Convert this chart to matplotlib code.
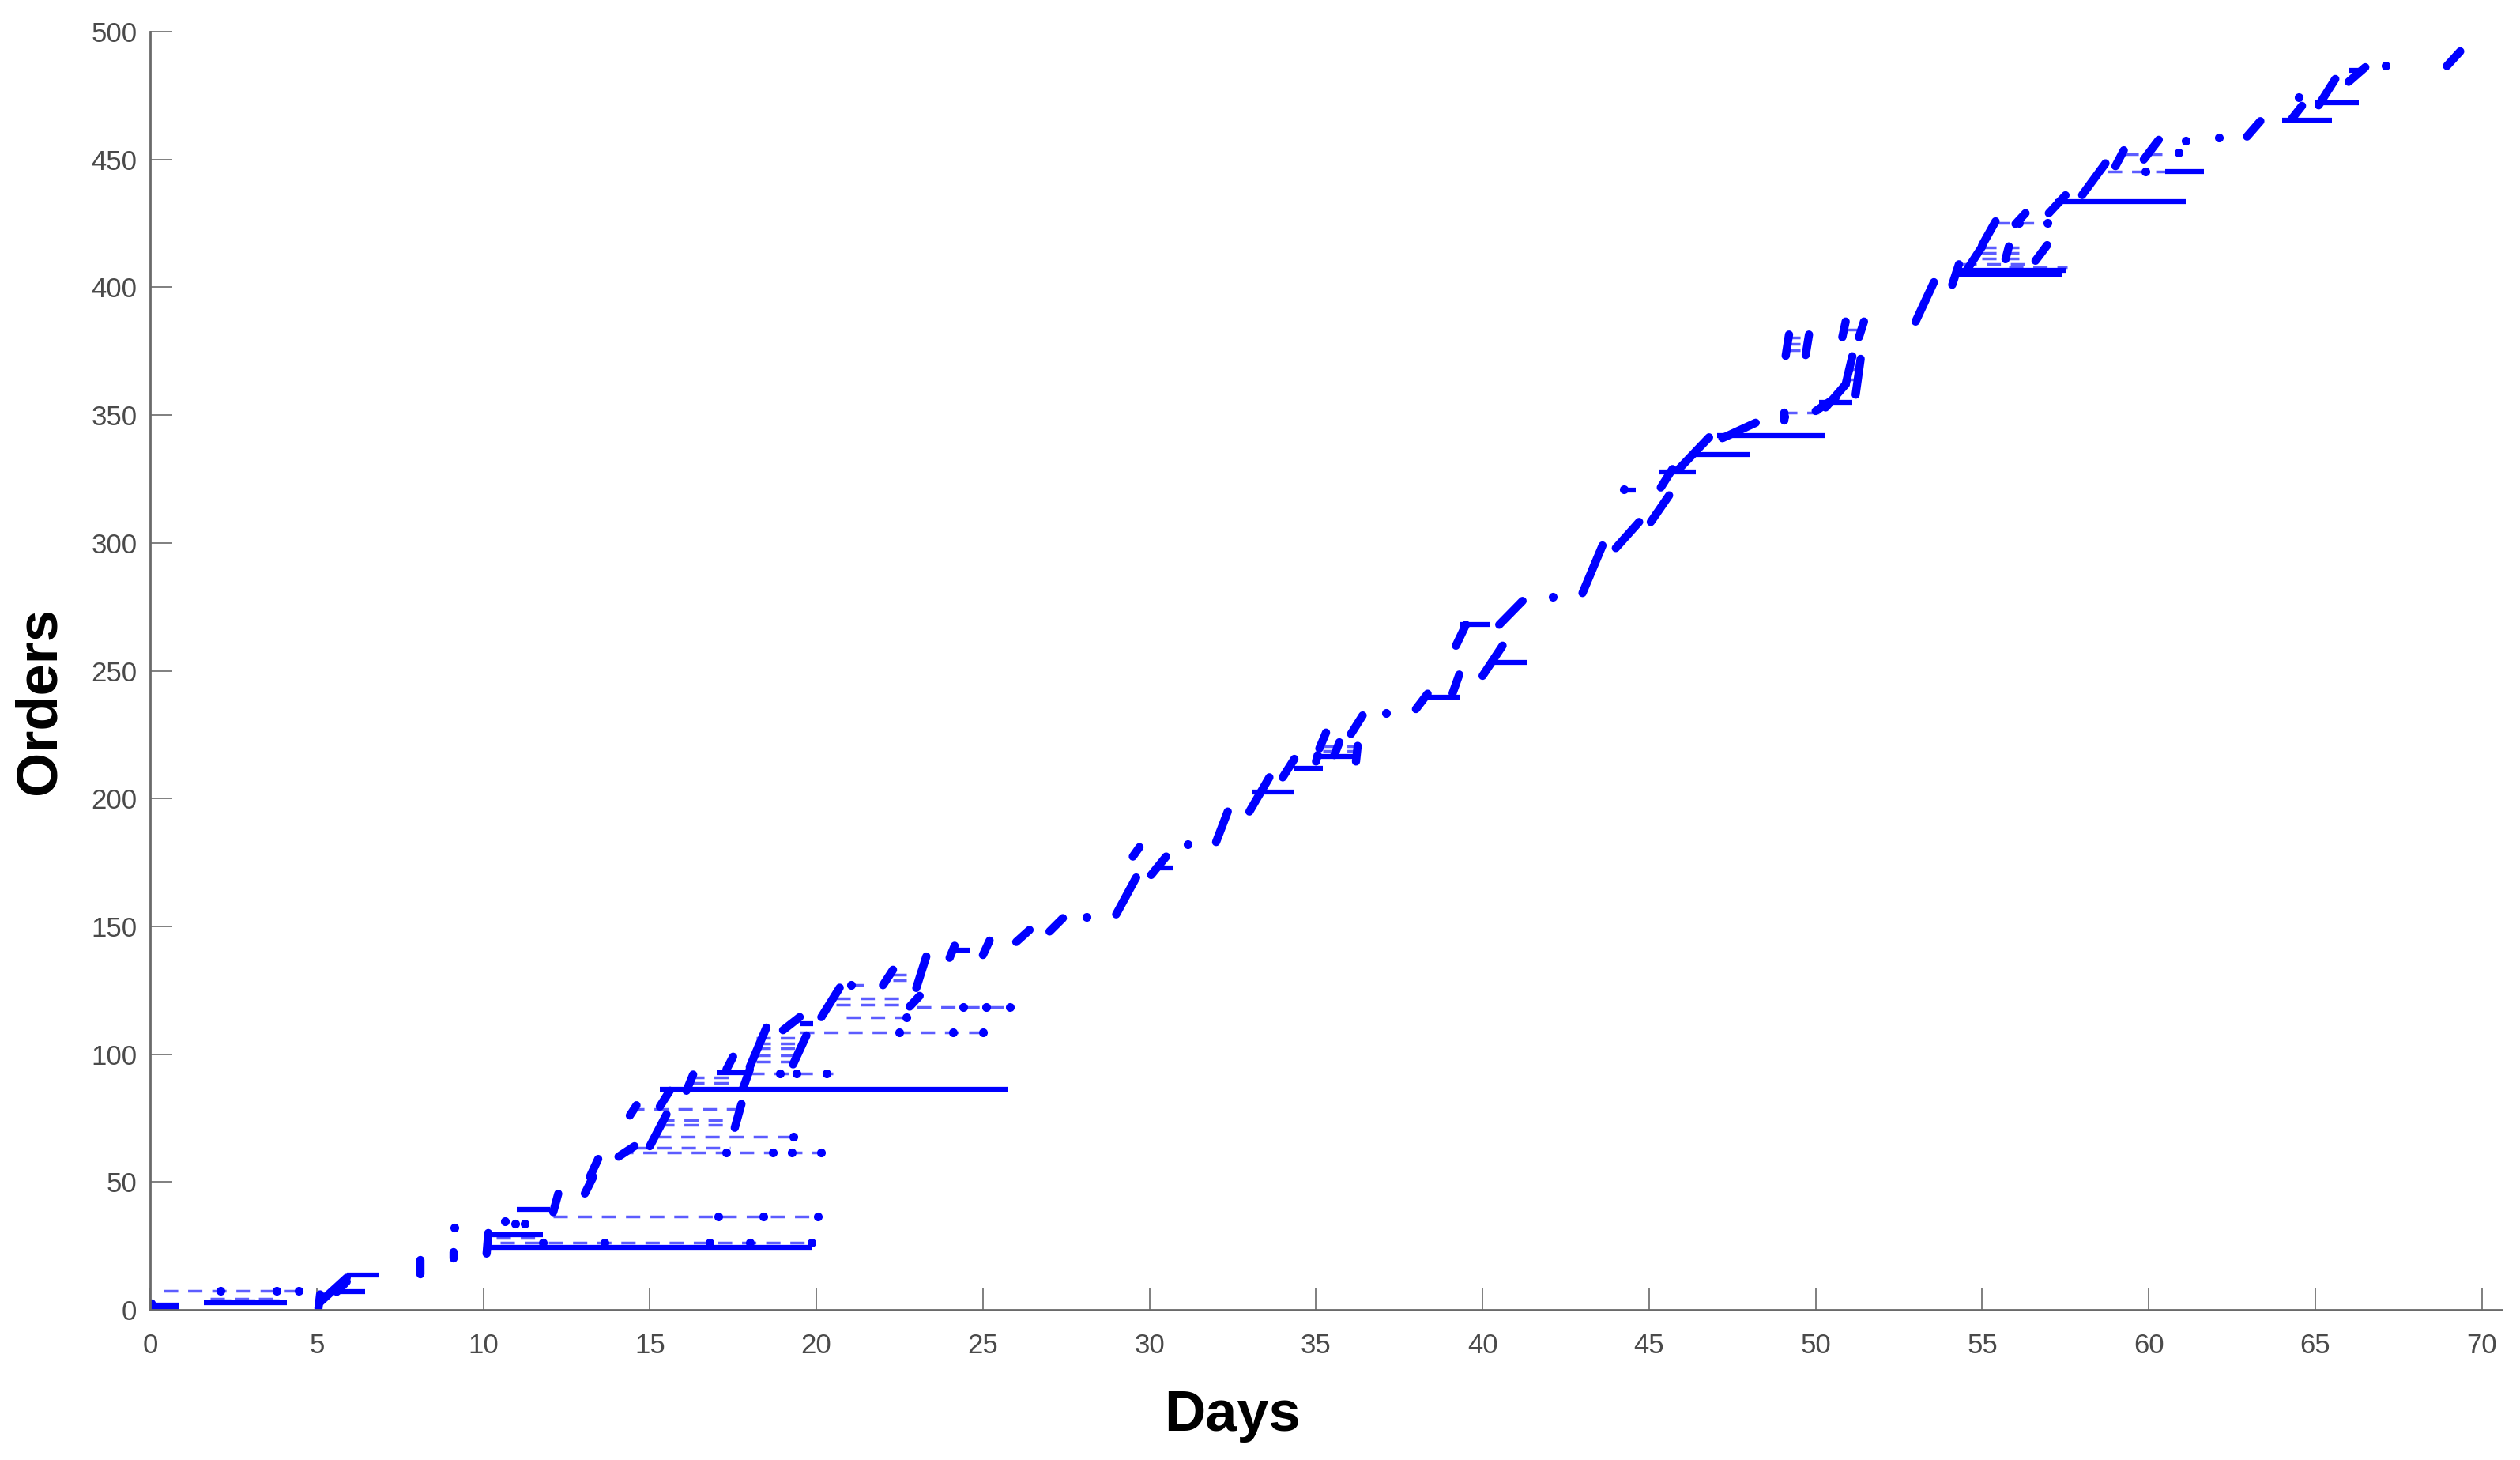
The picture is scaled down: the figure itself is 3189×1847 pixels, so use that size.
import numpy as np
import matplotlib.pyplot as plt

plt.rcParams['font.family'] = ['Liberation Sans', 'DejaVu Sans']
plt.rcParams['lines.scale_dashes'] = False

# single orders (day, order number)
dot_day = [2.1, 3.8, 4.45, 9.13, 10.66, 10.95, 11.25, 11.8, 13.65, 16.8, 18.0, 19.85,
           17.06, 18.4, 20.05, 17.3, 18.7, 19.25, 20.15, 19.3, 18.9, 19.4, 20.3,
           22.5, 24.1, 25.0, 22.7, 24.4, 25.1, 25.8, 21.05, 28.1, 31.15, 37.1,
           42.1, 44.25, 49.05, 56.1, 56.95, 59.9, 60.9, 61.1, 62.1, 64.5, 67.1]
dot_order = [7.4, 7.4, 7.4, 32, 34.6, 33.6, 33.6, 26.4, 26.4, 26.4, 26.4, 26.4,
             36.4, 36.4, 36.4, 61.4, 61.4, 61.4, 61.4, 67.6, 92.4, 92.4, 92.4,
             108.6, 108.6, 108.6, 114.5, 118.3, 118.3, 118.3, 127, 153.7, 182, 233.5,
             278.9, 321, 349.5, 425.3, 425.3, 445.4, 452.6, 457.2, 458.6, 474.5, 486.6]

# runs of consecutive orders (start day, start order, end day, end order)
run_day_a = [0.05, 5.05, 5.1, 5.6, 8.1, 9.1, 10.1, 12.1, 13.05, 13.2, 14.06, 15.0, 17.55,
             14.4, 15.3, 16.1, 17.8, 17.3, 18.0, 19.3, 19.0, 20.15, 22.8, 22.0, 23.0,
             24.0, 25.0, 26.0, 27.0, 29.0, 29.5, 30.05, 32.0, 33.0, 34.0, 35.1, 35.0,
             36.2, 35.55, 36.05, 38.0, 39.1, 40.0, 39.2, 40.5, 43.0, 44.0, 45.05, 45.35,
             45.9, 47.2, 49.05, 50.0, 50.3, 50.9, 51.2, 49.1, 49.7, 50.8, 51.3, 53.0,
             54.1, 54.5, 55.0, 55.7, 56.6, 56.0, 57.0, 58.0, 59.0, 59.85, 62.95, 64.3,
             65.1, 66.0, 68.95]
run_order_a = [0, 0.5, 3, 7, 14, 20, 22, 38.2, 45.5, 52, 59.9, 64, 71.2,
               76, 79.5, 85.7, 86.7, 94, 95, 96, 109.4, 114.5, 118.6, 127, 125.9,
               137.7, 138.8, 143.9, 148, 154.7, 177.3, 170.1, 183, 194.9, 208.3, 219.6, 214.5,
               214.5, 217, 225.3, 235, 241.2, 248, 259.8, 268, 280.4, 298, 308.2, 321.7,
               329, 341, 348, 351.6, 353, 362, 358, 373.2, 373.5, 380.5, 380.5, 386.6,
               401, 406, 416.5, 411, 410.4, 424.8, 429, 436.1, 447.4, 450, 459, 466,
               471.2, 480.4, 486.6]
run_day_b = [0.05, 5.1, 5.9, 5.9, 8.1, 9.1, 10.15, 12.25, 13.3, 13.45, 14.54, 15.5, 17.75,
             14.6, 15.6, 16.3, 18.0, 17.5, 18.5, 19.7, 19.5, 20.7, 23.1, 22.3, 23.3,
             24.15, 25.2, 26.4, 27.4, 29.6, 29.7, 30.5, 32.35, 33.6, 34.35, 35.3, 35.05,
             36.25, 35.7, 36.4, 38.35, 39.3, 40.6, 39.5, 41.2, 43.6, 44.7, 45.6, 45.7,
             46.8, 48.2, 49.05, 50.6, 50.9, 51.1, 51.35, 49.2, 49.8, 50.9, 51.45, 53.55,
             54.3, 55.0, 55.4, 55.8, 56.95, 56.3, 57.5, 58.7, 59.25, 60.3, 63.35, 64.6,
             65.6, 66.5, 69.35]
run_order_b = [2.5, 6, 12.5, 11, 19.5, 22.5, 30, 45.4, 52, 59, 64, 76.4, 80.5,
               80, 85.7, 92, 94, 99, 110.4, 107.3, 114.5, 126, 122.8, 133, 138.2,
               142.4, 144.4, 148.6, 153.2, 169.1, 181, 177.3, 194.9, 208.3, 215.5, 225.8, 217,
               220.6, 222, 232.5, 241, 248.5, 259.8, 268, 277.3, 299, 308.2, 318.6, 328.9,
               341.3, 347, 351, 356.8, 362, 373, 372, 381.5, 381.5, 386.6, 386.6, 402,
               409, 416, 425.8, 416, 416.5, 429, 436, 448.5, 453.6, 457.7, 465, 471,
               481.5, 486.1, 492.3]

# long waits drawn solid (order, from day, to day)
solid_order = [0.7, 1.8, 2.8, 13.5, 7.0, 24.3, 29.5, 39.3, 86.4, 92.8, 112, 140.8, 172.7,
               202.6, 211.7, 216.5, 239.7, 253.1, 268, 320.8, 327.9, 334.7, 342, 355,
               405.2, 406.5, 433.6, 445.4, 465.5, 472.2, 485]
solid_from = [0, 0, 1.6, 5.9, 5.5, 10.1, 10.2, 11.0, 15.3, 17.0, 19.5, 24.1, 30.1,
              33.1, 34.35, 35.0, 38.2, 40.2, 39.3, 44.2, 45.3, 46.3, 47.05, 50.1,
              54.1, 54.3, 57.2, 60.5, 64.0, 65.0, 66.0]
solid_to = [0.85, 0.85, 4.1, 6.85, 6.45, 19.85, 11.8, 12.0, 25.77, 18.0, 19.9, 24.6, 30.7,
            34.35, 35.2, 36.3, 39.3, 41.35, 40.2, 44.6, 46.4, 48.05, 50.3, 51.1,
            57.4, 57.5, 61.1, 61.65, 65.5, 66.3, 66.5]

# waits drawn dashed (order, from day, to day)
dash_order = [7.4, 4.2, 3.6, 26.4, 28.0, 36.4, 61.4, 63.5, 67.6, 72.3, 74.3, 78.5, 91, 88.8,
              92.4, 97, 99.6, 102.2, 104.2, 106.3, 108.6, 114.5, 119.2, 121.7, 118.3, 127,
              129, 131, 218.5, 220.5, 351, 375.5, 378, 380.5, 383.5, 364, 368, 407.8, 409,
              411.4, 413.5, 415.5, 425.3, 445.4, 452]
dash_from = [0.4, 1.8, 2.0, 10.5, 10.4, 12.1, 14.06, 14.5, 15.2, 15.3, 15.3, 14.4, 16.2, 16.2,
             18.0, 18.2, 18.2, 18.2, 18.2, 18.2, 19.5, 20.9, 20.6, 20.6, 23.0, 21.0,
             22.3, 22.3, 35.2, 35.2, 49.0, 49.1, 49.1, 49.1, 50.85, 50.9, 50.95, 55.8, 54.4,
             55.0, 55.0, 55.0, 55.4, 58.75, 59.25]
dash_to = [4.5, 3.9, 4.0, 19.9, 11.8, 20.05, 20.15, 17.4, 19.3, 17.7, 17.7, 17.8, 17.5, 17.5,
           20.5, 19.5, 19.5, 19.5, 19.5, 19.5, 25.0, 22.7, 22.7, 22.7, 25.8, 21.6,
           22.7, 22.7, 36.2, 36.2, 50.1, 49.8, 49.8, 49.8, 51.4, 51.3, 51.3, 57.55, 56.5,
           56.1, 56.1, 56.1, 57.05, 60.6, 60.4]

blue = '#0000ff'
axis_col = '#6a6a6a'

fig = plt.figure(figsize=(31.89, 18.47), dpi=100)
ax = fig.add_axes([0.0596, 0.1029, 0.9332, 0.8754])

ax.hlines(dash_order, dash_from, dash_to, colors='#5c5cff', linewidth=2.5,
          linestyles=(0, (13, 9)))
ax.hlines(solid_order, solid_from, solid_to, colors=blue, linewidth=4.5)
for i in range(len(run_day_a)):
    ax.plot([run_day_a[i], run_day_b[i]], [run_order_a[i], run_order_b[i]],
            color=blue, linewidth=7.5, solid_capstyle='round')
ax.plot(dot_day, dot_order, 'o', color=blue, markersize=8, markeredgewidth=0)

ax.set_xlim(0, 70.6)
ax.set_ylim(0, 500)
ax.set_xticks(np.arange(0, 71, 5))
ax.set_yticks(np.arange(0, 501, 50))

for side in ['top', 'right']:
    ax.spines[side].set_visible(False)
for side in ['left', 'bottom']:
    ax.spines[side].set_color(axis_col)
    ax.spines[side].set_linewidth(2)

ax.tick_params(axis='both', direction='in', length=20, width=1.2, color=axis_col,
               labelsize=25, labelcolor='#4a4a4a')
ax.tick_params(axis='x', pad=21)
ax.tick_params(axis='y', pad=12)

fig.text(0.4889, 0.0200, 'Days', ha='center', va='baseline', fontsize=52,
         fontweight='bold', color='black')
fig.text(0.0157, 0.5198, 'Orders', ha='center', va='center', rotation=90,
         fontsize=52, fontweight='bold', color='black')

fig.savefig('out.png', dpi=100)
